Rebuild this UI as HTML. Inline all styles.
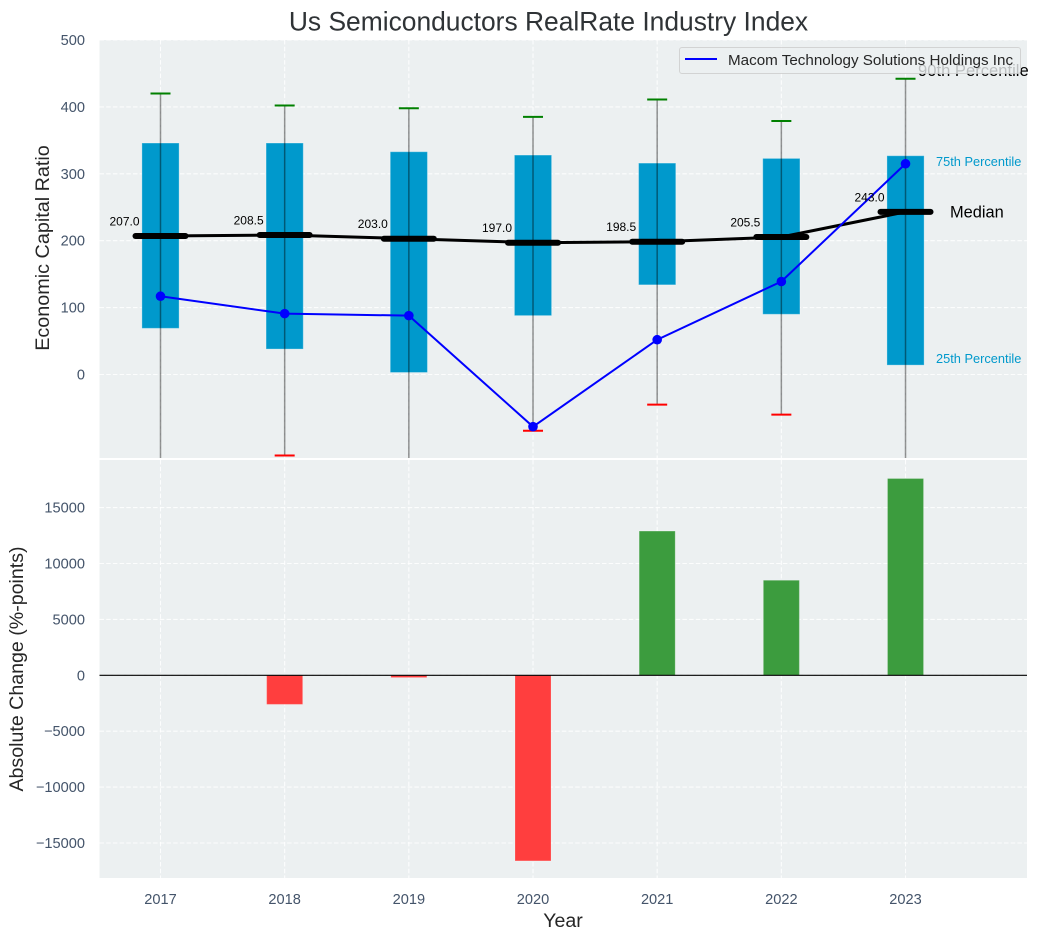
<!DOCTYPE html>
<html lang="en">
<head>
<meta charset="utf-8">
<title>Us Semiconductors RealRate Industry Index</title>
<style>
html,body{margin:0;padding:0;background:#fff;width:1038px;height:940px;overflow:hidden}
svg{display:block;font-family:"Liberation Sans",Arial,sans-serif}
</style>
</head>
<body>
<svg id="chart" xmlns="http://www.w3.org/2000/svg" width="1038" height="940" viewBox="0 0 1038 940"></svg>
<script>
const years = [2017, 2018, 2019, 2020, 2021, 2022, 2023];
const q25 = [69, 38, 3, 88, 134, 90, 14];
const q75 = [346, 346, 333, 328, 316, 323, 327];
const p90 = [420, 402, 398, 385, 411, 379, 442];
const p10 = [-160, -121, -170, -84, -45, -60, -150];
const medians = [207, 208.5, 203, 197, 198.5, 205.5, 243];
const company = [117, 91, 88, -78, 52, 139, 315];
const changes = [0, -2600, -200, -16600, 12900, 8500, 17600];
const topTicks = [0, 100, 200, 300, 400, 500];
const bottomTicks = [-15000, -10000, -5000, 0, 5000, 10000, 15000];

const NS = 'http://www.w3.org/2000/svg';
const svg = document.getElementById('chart');
const PL = 99.5, PR = 1027;
const TT = 40, TB = 458, BT = 460, BB = 878;
const TICK = 14.6;

function x(year) { return 160.5 + (year - 2017) * 124.17; }
function yTop(v) { return 374.5 - v * 0.669; }
function yBot(v) { return 675.3 - v * 0.01118; }

function mk(tag, attrs, parent, txt) {
  const e = document.createElementNS(NS, tag);
  for (const k in attrs) e.setAttribute(k, attrs[k]);
  if (txt !== undefined) e.textContent = txt;
  (parent || svg).appendChild(e);
  return e;
}
function fmtMinus(v) { return String(v).replace('-', '\u2212'); }

const defs = mk('defs', {});
const cp = mk('clipPath', { id: 'clip-top' }, defs);
mk('rect', { x: PL, y: TT, width: PR - PL, height: TB - TT }, cp);

/* panels */
const panelTop = mk('rect', { x: PL, y: TT, width: PR - PL, height: TB - TT, fill: '#ecf0f1' });


const panelBot = mk('rect', { x: PL, y: BT, width: PR - PL, height: BB - BT, fill: '#ecf0f1' });



const gridStyle = { stroke: '#ffffff', 'stroke-width': 1.1, 'stroke-dasharray': '4.5 2.2', 'stroke-opacity': 0.85 };

/* grid + ticks: top */
topTicks.forEach(function (t) {
  const y = yTop(t);
  const g = mk('line', Object.assign({ x1: PL, x2: PR, y1: y, y2: y }, gridStyle));
  
  
  const l = mk('text', { x: 85, y: y + 5, 'text-anchor': 'end', 'font-size': TICK, fill: '#44546a' }, svg, fmtMinus(t));
  
  
});
/* grid + ticks: bottom */
bottomTicks.forEach(function (t) {
  const y = yBot(t);
  const g = mk('line', Object.assign({ x1: PL, x2: PR, y1: y, y2: y }, gridStyle));
  
  
  const l = mk('text', { x: 85, y: y + 5, 'text-anchor': 'end', 'font-size': TICK, fill: '#44546a' }, svg, fmtMinus(t));
  
  
});
years.forEach(function (yr) {
  const g1 = mk('line', Object.assign({ x1: x(yr), x2: x(yr), y1: TT, y2: TB }, gridStyle));
  
  
  const g2 = mk('line', Object.assign({ x1: x(yr), x2: x(yr), y1: BT, y2: BB }, gridStyle));
  
  
  const l = mk('text', { x: x(yr), y: 904, 'text-anchor': 'middle', 'font-size': TICK, fill: '#44546a' }, svg, String(yr));
  
  
});

/* top chart */
const topG = mk('g', { 'clip-path': 'url(#clip-top)' });



years.forEach(function (yr, i) {
  const b = mk('rect', { x: x(yr) - 18.6, y: yTop(q75[i]), width: 37.2, height: yTop(q25[i]) - yTop(q75[i]), fill: '#0099cc', stroke: '#ffffff', 'stroke-opacity': 0.3, 'stroke-width': 1 }, topG);
  
  
});
years.forEach(function (yr, i) {
  const w = mk('line', { x1: x(yr), x2: x(yr), y1: yTop(p90[i]), y2: yTop(p10[i]), stroke: '#000000', 'stroke-opacity': 0.42, 'stroke-width': 1.5 }, topG);
  
  
  const c1 = mk('line', { x1: x(yr) - 10, x2: x(yr) + 10, y1: yTop(p90[i]), y2: yTop(p90[i]), stroke: '#008000', 'stroke-width': 2 }, topG);
  
  
  const c2 = mk('line', { x1: x(yr) - 10, x2: x(yr) + 10, y1: yTop(p10[i]), y2: yTop(p10[i]), stroke: '#ff0000', 'stroke-width': 2 }, topG);
  
  
});

const medLine = mk('polyline', { points: years.map(function (yr, i) { return x(yr) + ',' + yTop(medians[i]); }).join(' '), fill: 'none', stroke: '#000000', 'stroke-width': 3 }, topG);



years.forEach(function (yr, i) {
  const m = mk('line', { x1: x(yr) - 25, x2: x(yr) + 25, y1: yTop(medians[i]), y2: yTop(medians[i]), stroke: '#000000', 'stroke-width': 6, 'stroke-linecap': 'round' }, topG);
  
  
});

const compLine = mk('polyline', { points: years.map(function (yr, i) { return x(yr) + ',' + yTop(company[i]); }).join(' '), fill: 'none', stroke: '#0000ff', 'stroke-width': 2 }, topG);


years.forEach(function (yr, i) {
  const d = mk('circle', { cx: x(yr), cy: yTop(company[i]), r: 4.8, fill: '#0000ff' }, topG);
  
  
});

years.forEach(function (yr, i) {
  const t = mk('text', { x: x(yr) - 21, y: yTop(medians[i]) - 10.5, 'text-anchor': 'end', 'font-size': 12, fill: '#000000' }, svg, medians[i].toFixed(1));
  
  
});

/* annotations */
const last = years.length - 1;
const a90 = mk('text', { x: 918, y: 76, 'font-size': 16.6, fill: '#000000' }, svg, '90th Percentile');


const a75 = mk('text', { x: 936, y: 166, 'font-size': 12.8, fill: '#0099cc' }, svg, '75th Percentile');


const a25 = mk('text', { x: 936, y: 363, 'font-size': 12.8, fill: '#0099cc' }, svg, '25th Percentile');


const aMed = mk('text', { x: 950, y: yTop(medians[last]) + 5.5, 'font-size': 16.4, fill: '#000000' }, svg, 'Median');



/* legend */
const legend = mk('g', {});


const legBox = mk('rect', { x: 679.5, y: 47.5, width: 341, height: 26, rx: 2.5, fill: '#ecf0f1', 'fill-opacity': 0.8, stroke: '#cccccc', 'stroke-opacity': 0.8 }, legend);


const legLine = mk('line', { x1: 685, x2: 717, y1: 59, y2: 59, stroke: '#0000ff', 'stroke-width': 2 }, legend);


const legText = mk('text', { x: 728, y: 65, 'font-size': 15.2, fill: '#262626' }, legend, 'Macom Technology Solutions Holdings Inc');



/* bottom chart */
years.forEach(function (yr, i) {
  if (!changes[i]) return;
  const y0 = yBot(0), y1 = yBot(changes[i]);
  const b = mk('rect', { x: x(yr) - 18, y: Math.min(y0, y1), width: 36, height: Math.abs(y1 - y0), fill: changes[i] >= 0 ? '#3c9c3e' : '#ff3e3e', stroke: '#ffffff', 'stroke-opacity': 0.2, 'stroke-width': 1 });
  
  
});
const zero = mk('line', { x1: PL, x2: PR, y1: yBot(0), y2: yBot(0), stroke: '#000000', 'stroke-width': 1.2 });



/* titles */
const title = mk('text', { x: 548.5, y: 30.5, 'text-anchor': 'middle', 'font-size': 26.4, fill: '#2f3336' }, svg, 'Us Semiconductors RealRate Industry Index');


const yl1 = mk('text', { x: 0, y: 0, transform: 'translate(49 248) rotate(-90)', 'text-anchor': 'middle', 'font-size': 19.8, fill: '#262626' }, svg, 'Economic Capital Ratio');


const yl2 = mk('text', { x: 0, y: 0, transform: 'translate(23 669) rotate(-90)', 'text-anchor': 'middle', 'font-size': 19.6, fill: '#262626' }, svg, 'Absolute Change (%-points)');


const xl = mk('text', { x: 563, y: 927, 'text-anchor': 'middle', 'font-size': 19.6, fill: '#262626' }, svg, 'Year');


</script>
</body>
</html>
